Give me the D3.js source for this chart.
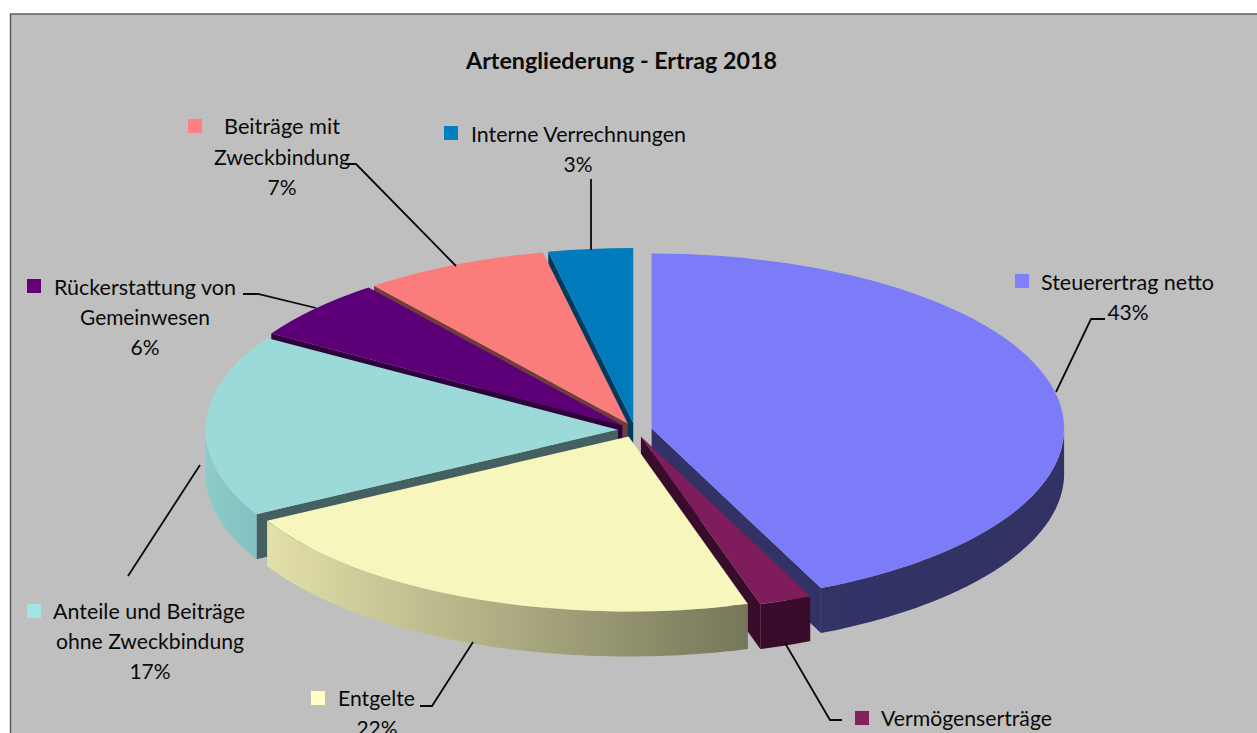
<!DOCTYPE html>
<html><head><meta charset="utf-8">
<script src="https://cdn.jsdelivr.net/npm/d3@7"></script>
<style>html,body{margin:0;padding:0;background:#fff;overflow:hidden}svg{display:block}text{font-family:Lato,"Noto Sans",sans-serif;fill:#0a0a0a}</style>
</head><body>
<svg id="c" width="1257" height="733"></svg>
<script>
// ---- data
const categories = ["Steuerertrag netto","Vermögenserträge","Entgelte","Anteile und Beiträge ohne Zweckbindung","Rückerstattung von Gemeinwesen","Beiträge mit Zweckbindung","Interne Verrechnungen"];
const values = [43.27,2.06,21.67,16.8,5.65,7.25,3.3];
const percentLabels = ["43%","2%","22%","17%","6%","7%","3%"];
const chartTitle = "Artengliederung - Ertrag 2018";

// ---- styles
const topColors  = ["#7c7cf8","#7f1d5c","#f7f6bc","#9cdada","#5d0077","#fa7d7c","#007cbd"];
const keyColors  = ["#8080ff","#822060","#ffffc8","#a4e4e4","#640078","#ff8080","#0080c0"];
const endColors  = ["#323266","#3a0c2c","#77775a","#446060","#2e003c","#703c3c","#003a5c"];
const rimStart   = ["#333367","#3a0c2c","#e3e0a9","#8ecaca","#2e003c","#703c3c","#003a5c"];
const rimEnd     = ["#313163","#3a0c2c","#76775a","#82c2c2","#2e003c","#703c3c","#003a5c"];

// ---- layout
const W=1257,H=733, cx=635, cy=430, rx=412.5, ry=175, depth=45, exX=17, exY=7;
const svg=d3.select("#c");
svg.append("rect").attr("x",0).attr("y",0).attr("width",W).attr("height",H).attr("fill","#fff");
svg.append("rect").attr("x",10.5).attr("y",14).attr("width",W+20).attr("height",H+20)
   .attr("fill","#bfbfbf").attr("stroke","#555").attr("stroke-width",1.4);

const pie=d3.pie().sort(null).value(d=>d)(values);
const defs=svg.append("defs");
const R=100, arc=d3.arc().innerRadius(0).outerRadius(R);
const g=svg.append("g");
const drawOrder=[6,5,4,3,0,1,2];
drawOrder.forEach(i=>{
  const s=pie[i], a0=s.startAngle, a1=s.endAngle, mid=(a0+a1)/2;
  const ax=cx+exX*Math.sin(mid), ay=cy-exY*Math.cos(mid);
  const px=t=>ax+rx*Math.sin(t), py=t=>ay-ry*Math.cos(t);
  // visible straight walls
  const line=d3.line();
  const wall=t=>line([[ax,ay],[px(t),py(t)],[px(t),py(t)+depth],[ax,ay+depth]])+"Z";
  if(Math.sin(a0)<-1e-6) g.append("path").attr("d",wall(a0)).attr("fill",endColors[i]);
  if(Math.sin(a1)>1e-6)  g.append("path").attr("d",wall(a1)).attr("fill",endColors[i]);
  // rim
  const r0=Math.max(a0,Math.PI/2), r1=Math.min(a1,3*Math.PI/2);
  if(r1>r0){
    const ts=d3.range(0,81).map(k=>r0+(r1-r0)*k/80);
    const x0=d3.min(ts,px), x1=d3.max(ts,px);
    const lg=defs.append("linearGradient").attr("id","rim"+i).attr("gradientUnits","userSpaceOnUse")
      .attr("x1",x0).attr("x2",x1).attr("y1",0).attr("y2",0);
    lg.append("stop").attr("offset",0).attr("stop-color",rimStart[i]);
    lg.append("stop").attr("offset",1).attr("stop-color",rimEnd[i]);
    const area=d3.area().x(px).y0(py).y1(t=>py(t)+depth);
    g.append("path").attr("d",area(ts)).attr("fill","url(#rim"+i+")");
  }
  // top face
  g.append("path").attr("d",arc(s))
   .attr("transform",`translate(${ax},${ay}) scale(${rx/R},${ry/R})`)
   .attr("fill",topColors[i]);
});

// ---- leaders
const leaders=[
 [[1056,392],[1091,319],[1105,319]],
 [[785,643],[830,720],[842,720]],
 [[473,642],[432,706],[420,706]],
 [[200,465],[128,576]],
 [[243,294],[258,294],[316,308]],
 [[345,164],[356,164],[456,266]],
 [[591,179],[591,250]]
];
const ll=d3.line();
leaders.forEach(p=>svg.append("path").attr("d",ll(p)).attr("fill","none").attr("stroke","#0a0a0a").attr("stroke-width",1.8));

// ---- labels
const fs=21;
const labelLayout=[
 {key:[1015,274],lines:[["Steuerertrag netto",1041,290,173,"start"],["43%",1128,320,0,"middle"]]},
 {key:[855,711],lines:[["Vermögenserträge",881,726,171,"start"]]},
 {key:[311,691],lines:[["Entgelte",338,706,77,"start"],["22%",377,736,0,"middle"]]},
 {key:[27,604],lines:[["Anteile und Beiträge",53,619,192,"start"],["ohne Zweckbindung",150,649,188,"middle"],["17%",150,679,0,"middle"]]},
 {key:[27,279],lines:[["Rückerstattung von",54,295,182,"start"],["Gemeinwesen",145,325,130,"middle"],["6%",145,355,0,"middle"]]},
 {key:[188,119],lines:[["Beiträge mit",224,134,116,"start"],["Zweckbindung",282,165,136,"middle"],["7%",282,195,0,"middle"]]},
 {key:[444,126],lines:[["Interne Verrechnungen",471,142,215,"start"],["3%",578,172,0,"middle"]]}
];
labelLayout.forEach((l,i)=>{
  svg.append("rect").attr("x",l.key[0]).attr("y",l.key[1]).attr("width",14).attr("height",14).attr("fill",keyColors[i]);
  l.lines.forEach(([t,x,y,w,a])=>{
    const el=svg.append("text").attr("x",x).attr("y",y).attr("text-anchor",a).attr("font-size",fs).text(t);
    if(w) el.attr("textLength",w).attr("lengthAdjust","spacingAndGlyphs");
  });
});
svg.append("text").attr("x",621.5).attr("y",69).attr("text-anchor","middle").attr("font-size",23)
  .attr("font-weight",700).attr("textLength",311).attr("lengthAdjust","spacingAndGlyphs").text(chartTitle);
</script>
</body></html>
